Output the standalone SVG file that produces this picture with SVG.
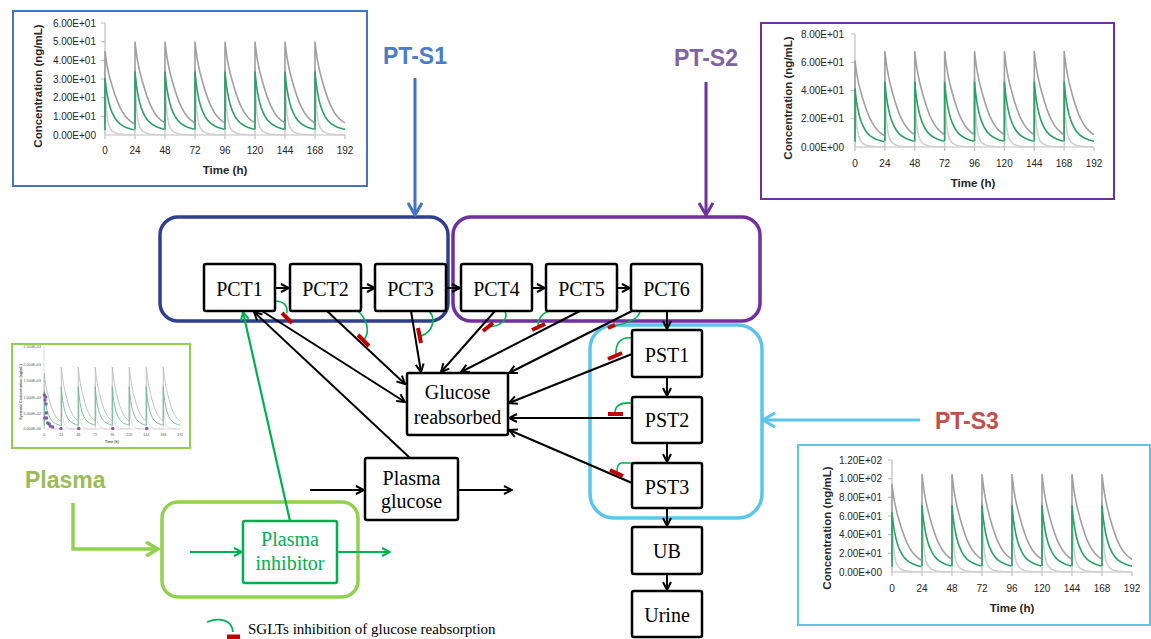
<svg xmlns="http://www.w3.org/2000/svg" xmlns:xlink="http://www.w3.org/1999/xlink" width="1151" height="639" viewBox="0 0 1151 639">
<style>
.node rect{fill:#fff;stroke:#000;stroke-width:2.5}
.ntxt{font-family:"Liberation Serif","Times New Roman",serif;font-size:20px;fill:#000;text-anchor:middle}
.conn{fill:none;stroke:#000;stroke-width:2}
.tick{font-family:"Liberation Sans",Arial,sans-serif;font-size:10px;fill:#262626}
.ytk{text-anchor:end}
.xtk{text-anchor:middle}
.atitle{font-family:"Liberation Sans",Arial,sans-serif;font-size:11.5px;font-weight:bold;fill:#262626;text-anchor:middle}
.axis{stroke:#bfbfbf;stroke-width:1.2;fill:none}
.lbl{font-family:"Liberation Sans",Arial,sans-serif;font-weight:bold;font-size:23px}
.cv{fill:none;vector-effect:non-scaling-stroke}
.inh{fill:none;stroke:#00b050;stroke-width:1.6}
.bar{stroke:#c00000;stroke-width:4;stroke-linecap:butt}
.tiny{font-family:"Liberation Sans",Arial,sans-serif;font-size:3.6px;fill:#555}
</style>
<defs>
<marker id="ah" viewBox="0 0 10 10" refX="9" refY="5" markerWidth="10" markerHeight="10" markerUnits="userSpaceOnUse" orient="auto"><path d="M1,1 L9,5 L1,9" fill="none" stroke="#000" stroke-width="2"/></marker>
<marker id="ahg" viewBox="0 0 10 10" refX="9" refY="5" markerWidth="10" markerHeight="10" markerUnits="userSpaceOnUse" orient="auto"><path d="M1,1 L9,5 L1,9" fill="none" stroke="#00b050" stroke-width="2"/></marker>
<marker id="ahlg" viewBox="0 0 16 16" refX="14" refY="8" markerWidth="16" markerHeight="16" markerUnits="userSpaceOnUse" orient="auto"><path d="M2,1 L14,8 L2,15" fill="none" stroke="#92d050" stroke-width="3.5"/></marker>
<marker id="ahb" viewBox="0 0 16 16" refX="14" refY="8" markerWidth="16" markerHeight="16" markerUnits="userSpaceOnUse" orient="auto"><path d="M2,1 L14,8 L2,15" fill="none" stroke="#4472c4" stroke-width="3"/></marker>
<marker id="ahp" viewBox="0 0 16 16" refX="14" refY="8" markerWidth="16" markerHeight="16" markerUnits="userSpaceOnUse" orient="auto"><path d="M2,1 L14,8 L2,15" fill="none" stroke="#7030a0" stroke-width="3"/></marker>
<marker id="ahc" viewBox="0 0 16 16" refX="14" refY="8" markerWidth="16" markerHeight="16" markerUnits="userSpaceOnUse" orient="auto"><path d="M2,1 L14,8 L2,15" fill="none" stroke="#5bc5ee" stroke-width="3"/></marker>
<g id="cyc">
<path class="cv" stroke="#d0d0d0" d="M0,0 L0,36 L0.5,24 L1,17 L1.5,12.5 L2,9.5 L3,6 L4,4.2 L5,3 L6,2.2 L8,1.3 L10,0.8 L12,0.5 L16,0.25 L20,0.12 L24,0.05"/>
<path class="cv" stroke="#a0a0a0" d="M0,6.5 L0,50 L0.5,47 L1,44.5 L1.5,42 L2,40 L3,36.5 L4,33.5 L5,31 L6,28.5 L8,24 L10,20 L12,16.5 L14,13.8 L16,11.5 L18,9.8 L20,8.4 L22,7.3 L24,6.5"/>
<path class="cv" stroke="#2ca065" d="M0,3 L0,34 L0.5,30.5 L1,27.5 L1.5,25 L2,23 L3,19.5 L4,16.8 L5,14.6 L6,12.8 L8,10 L10,8 L12,6.6 L14,5.6 L16,4.8 L18,4.2 L20,3.7 L22,3.3 L24,3"/>
</g>
<g id="run">
<use xlink:href="#cyc" transform="scale(1,0.9)"/>
<use xlink:href="#cyc" x="24"/><use xlink:href="#cyc" x="48"/><use xlink:href="#cyc" x="72"/><use xlink:href="#cyc" x="96"/><use xlink:href="#cyc" x="120"/><use xlink:href="#cyc" x="144"/><use xlink:href="#cyc" x="168"/>
</g>
</defs>

<!-- Chart PT-S1 -->
<g id="chart-s1">
<rect x="13" y="11" width="354" height="175" fill="#fff" stroke="#4472c4" stroke-width="2"/>
<path class="axis" d="M101,23 H105 M101,41.7 H105 M101,60.3 H105 M101,79 H105 M101,97.6 H105 M101,116.3 H105 M105,23 V135 H345 M105,135 v4 M135,135 v4 M165,135 v4 M195,135 v4 M225,135 v4 M255,135 v4 M285,135 v4 M315,135 v4 M345,135 v4"/>
<g class="tick ytk"><text x="96" y="26.5">6.00E+01</text><text x="96" y="45.2">5.00E+01</text><text x="96" y="63.8">4.00E+01</text><text x="96" y="82.5">3.00E+01</text><text x="96" y="101.1">2.00E+01</text><text x="96" y="119.8">1.00E+01</text><text x="96" y="138.5">0.00E+00</text></g>
<g class="tick xtk"><text x="105" y="154">0</text><text x="135" y="154">24</text><text x="165" y="154">48</text><text x="195" y="154">72</text><text x="225" y="154">96</text><text x="255" y="154">120</text><text x="285" y="154">144</text><text x="315" y="154">168</text><text x="345" y="154">192</text></g>
<text class="atitle" x="225" y="174">Time (h)</text>
<text class="atitle" transform="translate(42,86) rotate(-90)">Concentration (ng/mL)</text>
<g transform="translate(105,135) scale(1.25,-1.867)" stroke-width="1.6"><use xlink:href="#run"/></g>
</g>

<!-- Chart PT-S2 -->
<g id="chart-s2">
<rect x="761" y="23" width="353" height="176" fill="#fff" stroke="#7030a0" stroke-width="2"/>
<path class="axis" d="M851,34 H855 M851,62.25 H855 M851,90.5 H855 M851,118.75 H855 M855,34 V147 H1094 M855,147 v4 M884.9,147 v4 M914.8,147 v4 M944.6,147 v4 M974.5,147 v4 M1004.4,147 v4 M1034.3,147 v4 M1064.1,147 v4 M1094,147 v4"/>
<g class="tick ytk"><text x="844" y="37.5">8.00E+01</text><text x="844" y="65.8">6.00E+01</text><text x="844" y="94">4.00E+01</text><text x="844" y="122.3">2.00E+01</text><text x="844" y="150.5">0.00E+00</text></g>
<g class="tick xtk"><text x="855" y="167">0</text><text x="884.9" y="167">24</text><text x="914.8" y="167">48</text><text x="944.6" y="167">72</text><text x="974.5" y="167">96</text><text x="1004.4" y="167">120</text><text x="1034.3" y="167">144</text><text x="1064.1" y="167">168</text><text x="1094" y="167">192</text></g>
<text class="atitle" x="973" y="187">Time (h)</text>
<text class="atitle" transform="translate(792,98) rotate(-90)">Concentration (ng/mL)</text>
<g transform="translate(855,147) scale(1.245,-1.92)" stroke-width="1.6"><use xlink:href="#run"/></g>
</g>

<!-- Chart PT-S3 -->
<g id="chart-s3">
<rect x="798" y="445" width="352" height="180" fill="#fff" stroke="#5bc5ee" stroke-width="2"/>
<path class="axis" d="M888,460 H892 M888,478.7 H892 M888,497.3 H892 M888,516 H892 M888,534.7 H892 M888,553.3 H892 M892,460 V572 H1132 M892,572 v4 M922,572 v4 M952,572 v4 M982,572 v4 M1012,572 v4 M1042,572 v4 M1072,572 v4 M1102,572 v4 M1132,572 v4"/>
<g class="tick ytk"><text x="882" y="463.5">1.20E+02</text><text x="882" y="482.2">1.00E+02</text><text x="882" y="500.8">8.00E+01</text><text x="882" y="519.5">6.00E+01</text><text x="882" y="538.2">4.00E+01</text><text x="882" y="556.8">2.00E+01</text><text x="882" y="575.5">0.00E+00</text></g>
<g class="tick xtk"><text x="892" y="592">0</text><text x="922" y="592">24</text><text x="952" y="592">48</text><text x="982" y="592">72</text><text x="1012" y="592">96</text><text x="1042" y="592">120</text><text x="1072" y="592">144</text><text x="1102" y="592">168</text><text x="1132" y="592">192</text></g>
<text class="atitle" x="1012" y="612">Time (h)</text>
<text class="atitle" transform="translate(831,528) rotate(-90)">Concentration (ng/mL)</text>
<g transform="translate(892,572) scale(1.25,-1.96)" stroke-width="1.6"><use xlink:href="#run"/></g>
</g>

<!-- Chart Plasma (small) -->
<g id="chart-plasma">
<rect x="12" y="344" width="178" height="104" fill="#fff" stroke="#92d050" stroke-width="2"/>
<path stroke="#c8c8c8" stroke-width="0.6" fill="none" d="M42.5,347 H44 M42.5,364.6 H44 M42.5,381.2 H44 M42.5,397.8 H44 M42.5,414.4 H44 M44,347 V429 H180"/>
<g class="tiny ytk"><text x="41" y="348">2.500E+03</text><text x="41" y="365.6">2.000E+03</text><text x="41" y="382.2">1.500E+03</text><text x="41" y="398.8">1.000E+03</text><text x="41" y="415.4">5.000E+02</text><text x="41" y="430">0.000E+00</text></g>
<g class="tiny xtk"><text x="44.3" y="436">0</text><text x="61.3" y="436">24</text><text x="78.3" y="436">48</text><text x="95.3" y="436">72</text><text x="112.3" y="436">96</text><text x="129.3" y="436">120</text><text x="146.3" y="436">144</text><text x="163.3" y="436">168</text><text x="180.3" y="436">192</text></g>
<text class="tiny" x="112" y="443" text-anchor="middle" font-weight="bold">Time (h)</text>
<text class="tiny" transform="translate(22,392) rotate(-90)" text-anchor="middle" font-weight="bold">Systemic Concentration (ng/mL)</text>
<g transform="translate(44.3,429) scale(0.708,-1.24)" stroke-width="0.9" opacity="0.7"><use xlink:href="#run"/></g>
<g fill="#7b5ea7"><circle cx="44.3" cy="395" r="1.7"/><circle cx="45.7" cy="397" r="1.7"/><circle cx="45" cy="400" r="1.7"/><circle cx="46" cy="404" r="1.7"/><circle cx="46.3" cy="413" r="1.7"/><circle cx="44.7" cy="418" r="1.7"/><circle cx="46.7" cy="418" r="1.7"/><circle cx="47.7" cy="423" r="1.7"/><circle cx="49.3" cy="424" r="1.7"/><circle cx="50.3" cy="426" r="1.7"/><circle cx="52.7" cy="427" r="1.7"/><circle cx="61" cy="428.5" r="1.7"/><circle cx="78.7" cy="428.5" r="1.7"/><circle cx="112.7" cy="428.5" r="1.7"/><circle cx="146.7" cy="428.5" r="1.7"/></g>
</g>

<!-- Labels -->
<text class="lbl" x="415" y="64" fill="#4a7cc7" text-anchor="middle">PT-S1</text>
<text class="lbl" x="706" y="66" fill="#8064a2" text-anchor="middle">PT-S2</text>
<text class="lbl" x="935" y="429" fill="#c0504d">PT-S3</text>
<text class="lbl" x="25" y="488" fill="#9bbb59" font-size="25px">Plasma</text>

<!-- Group boxes -->
<g id="grp-s1"><rect x="160" y="217" width="288" height="104" rx="18" fill="none" stroke="#2f3e8e" stroke-width="3.5"/></g>
<g id="grp-s2"><rect x="453" y="217" width="307" height="104" rx="18" fill="none" stroke="#7030a0" stroke-width="3.5"/></g>
<g id="grp-s3"><rect x="590" y="325" width="172" height="193" rx="24" fill="none" stroke="#5bc5ee" stroke-width="3.5"/></g>
<g id="grp-plasma"><rect x="162" y="502" width="196" height="95" rx="16" fill="none" stroke="#92d050" stroke-width="3.5"/></g>

<!-- Connectors -->
<g id="connectors">
<g class="conn">
<path d="M275,288 H289" marker-end="url(#ah)"/>
<path d="M361,288 H375" marker-end="url(#ah)"/>
<path d="M446,288 H460" marker-end="url(#ah)"/>
<path d="M531,288 H545" marker-end="url(#ah)"/>
<path d="M617,288 H630" marker-end="url(#ah)"/>
<path d="M667,311 V329" marker-end="url(#ah)"/>
<path d="M667,377 V396" marker-end="url(#ah)"/>
<path d="M667,443 V462" marker-end="url(#ah)"/>
<path d="M667,508 V526" marker-end="url(#ah)"/>
<path d="M667,574 V590" marker-end="url(#ah)"/>
<path d="M262,311 L405,402" marker-end="url(#ah)"/>
<path d="M327,311 L405,384" marker-end="url(#ah)"/>
<path d="M411,311 L421,372" marker-end="url(#ah)"/>
<path d="M495,311 L441,372" marker-end="url(#ah)"/>
<path d="M580,311 L461,372" marker-end="url(#ah)"/>
<path d="M632,311 L509,373" marker-end="url(#ah)"/>
<path d="M632,354 L509,403" marker-end="url(#ah)"/>
<path d="M632,418 L509,418" marker-end="url(#ah)"/>
<path d="M632,483 L509,430" marker-end="url(#ah)"/>
<path d="M410,458 L254,312" marker-end="url(#ah)"/>
<path d="M310,490 H364" marker-end="url(#ah)"/>
<path d="M458,490 H512" marker-end="url(#ah)"/>
</g>
<g fill="none" stroke="#00b050" stroke-width="2.2">
<path d="M290,521 L243,312" marker-end="url(#ahg)"/>
<path d="M190,552 H242" marker-end="url(#ahg)"/>
<path d="M337,552 H390" marker-end="url(#ahg)"/>
</g>
<path d="M73,503 V549 H158" fill="none" stroke="#92d050" stroke-width="3.5" marker-end="url(#ahlg)"/>
<path d="M415,78 V215" fill="none" stroke="#4472c4" stroke-width="3" marker-end="url(#ahb)"/>
<path d="M706,82 V215" fill="none" stroke="#7030a0" stroke-width="3" marker-end="url(#ahp)"/>
<path d="M920,420 H763" fill="none" stroke="#5bc5ee" stroke-width="3" marker-end="url(#ahc)"/>
<!-- inhibition -->
<g>
<path class="inh" d="M276,301 Q288,302 287,313"/><line class="bar" x1="282" y1="313" x2="292" y2="323"/>
<path class="inh" d="M357,310 C366,318 371,330 364,340"/><line class="bar" x1="358" y1="335" x2="369" y2="346"/>
<path class="inh" d="M428,310 C437,318 433,332 421,336"/><line class="bar" x1="418" y1="328" x2="421" y2="343"/>
<path class="inh" d="M505,311 C509,320 500,326 489,327"/><line class="bar" x1="483" y1="331" x2="493" y2="323"/>
<path class="inh" d="M557,310 Q538,311 538,326"/><line class="bar" x1="532" y1="330" x2="545" y2="324"/>
<path class="inh" d="M640,311 Q639,321 614,326"/><line class="bar" x1="608" y1="328" x2="615" y2="325"/>
<path class="inh" d="M632,338 C620,336 615,345 616,355"/><line class="bar" x1="608" y1="359" x2="622" y2="353"/>
<path class="inh" d="M632,403 C620,402 615,406 615,413"/><line class="bar" x1="608" y1="414" x2="623" y2="414"/>
<path class="inh" d="M632,463 L621,463 Q617,464 617,472"/><line class="bar" x1="610" y1="470" x2="623" y2="476"/>
</g>
</g>

<!-- Nodes -->
<g id="PCT1" class="node"><rect x="204" y="264" width="71" height="47" rx="2"/><text class="ntxt" x="239.5" y="296">PCT1</text></g>
<g id="PCT2" class="node"><rect x="290" y="264" width="71" height="47" rx="2"/><text class="ntxt" x="325.5" y="296">PCT2</text></g>
<g id="PCT3" class="node"><rect x="375" y="264" width="71" height="47" rx="2"/><text class="ntxt" x="410.5" y="296">PCT3</text></g>
<g id="PCT4" class="node"><rect x="461" y="264" width="71" height="47" rx="2"/><text class="ntxt" x="496.5" y="296">PCT4</text></g>
<g id="PCT5" class="node"><rect x="546" y="264" width="71" height="47" rx="2"/><text class="ntxt" x="581.5" y="296">PCT5</text></g>
<g id="PCT6" class="node"><rect x="631" y="264" width="71" height="47" rx="2"/><text class="ntxt" x="666.5" y="296">PCT6</text></g>
<g id="PST1" class="node"><rect x="632" y="330" width="70" height="47" rx="2"/><text class="ntxt" x="667" y="362">PST1</text></g>
<g id="PST2" class="node"><rect x="632" y="397" width="70" height="46" rx="2"/><text class="ntxt" x="667" y="427">PST2</text></g>
<g id="PST3" class="node"><rect x="632" y="463" width="70" height="45" rx="2"/><text class="ntxt" x="667" y="494">PST3</text></g>
<g id="UB" class="node"><rect x="632" y="527" width="70" height="47" rx="2"/><text class="ntxt" x="667" y="558">UB</text></g>
<g id="Urine" class="node"><rect x="632" y="591" width="70" height="46" rx="2"/><text class="ntxt" x="667" y="622">Urine</text></g>
<g id="glucose-reabsorbed" class="node"><rect x="407" y="373" width="101" height="62" rx="2"/><text class="ntxt" x="457.5" y="399">Glucose</text><text class="ntxt" x="457.5" y="424">reabsorbed</text></g>
<g id="plasma-glucose" class="node"><rect x="365" y="458" width="93" height="62" rx="2"/><text class="ntxt" x="411.5" y="485">Plasma</text><text class="ntxt" x="411.5" y="508">glucose</text></g>
<g id="plasma-inhibitor"><rect x="243" y="521" width="94" height="62" rx="2" fill="#fff" stroke="#00b050" stroke-width="2.5"/><text class="ntxt" x="290" y="546" style="fill:#00b050">Plasma</text><text class="ntxt" x="290" y="570" style="fill:#00b050">inhibitor</text></g>

<!-- Legend -->
<g id="legend">
<path class="inh" d="M207,622 C220,617 232,620 233,632"/>
<line x1="227" y1="637" x2="240" y2="637" stroke="#c00000" stroke-width="5"/>
<text x="248" y="634" font-family="'Liberation Serif','Times New Roman',serif" font-size="15px" fill="#000">SGLTs inhibition of glucose reabsorption</text>
</g>
</svg>
